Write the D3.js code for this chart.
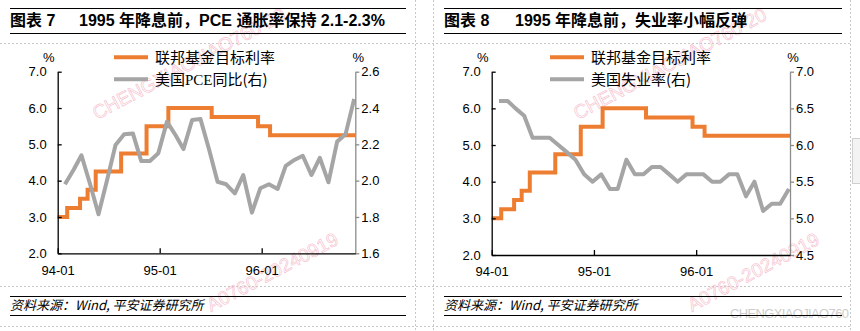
<!DOCTYPE html>
<html><head><meta charset="utf-8">
<script src="https://cdn.jsdelivr.net/npm/d3@7"></script>
<style>
html,body{margin:0;padding:0;background:#fff;}
svg{display:block;}
</style></head><body>
<svg id="c" width="860" height="331"></svg>
<script>
// ---------------- data ----------------
const months = ["1994-01","1994-02","1994-03","1994-04","1994-05","1994-06","1994-07","1994-08","1994-09","1994-10","1994-11","1994-12",
  "1995-01","1995-02","1995-03","1995-04","1995-05","1995-06","1995-07","1995-08","1995-09","1995-10","1995-11","1995-12",
  "1996-01","1996-02","1996-03","1996-04","1996-05","1996-06","1996-07","1996-08","1996-09","1996-10","1996-11"];
const pceYoY = [1.98,2.06,2.14,1.98,1.815,2.005,2.196,2.255,2.26,2.108,2.108,2.151,
  2.325,2.25,2.174,2.334,2.339,2.17,1.994,1.98,1.93,2.031,1.824,1.958,
  1.98,1.954,2.081,2.114,2.137,2.031,2.126,1.991,2.215,2.255,2.45];
const unemployment = [6.6,6.6,6.5,6.4,6.1,6.1,6.1,6.0,5.9,5.8,5.6,5.5,
  5.6,5.4,5.4,5.8,5.6,5.6,5.7,5.7,5.6,5.5,5.6,5.6,
  5.6,5.5,5.5,5.6,5.6,5.3,5.5,5.1,5.2,5.2,5.4];
const fedDates = ["1994-01-01","1994-02-04","1994-03-22","1994-04-18","1994-05-17","1994-08-16","1994-11-15",
  "1995-02-01","1995-07-06","1995-12-19","1996-01-31","1996-12-01"];
const fedTarget = [3.00,3.25,3.50,3.75,4.25,4.75,5.50,6.00,5.75,5.50,5.25,5.25];
const xTickDates = ["1994-01-01","1995-01-01","1996-01-01"];
const xTickLabels = ["94-01","95-01","96-01"];
const leftTicks = [2,3,4,5,6,7];
const pceTicks = [1.6,1.8,2.0,2.2,2.4,2.6];
const unempTicks = [4.5,5.0,5.5,6.0,6.5,7.0];
const obsDay = 27; // monthly observation placed late in month

const ORANGE = "#ED7D31", GRAY = "#A5A5A5";
const FONT = "'Liberation Sans','Noto Sans CJK SC',sans-serif";
const CJK = "'Noto Sans CJK SC','Liberation Sans',sans-serif";

const svg = d3.select("#c");
const parseDay = d3.timeParse("%Y-%m-%d");
const parseMonth = d3.timeParse("%Y-%m");

// page frame (dashed cell borders)
const dash = svg.append("g").attr("stroke","#c8c8c8").attr("stroke-dasharray","2,2").attr("stroke-width",1);
[43.5,286.5,326.5].forEach(y=>dash.append("line").attr("x1",0).attr("x2",851).attr("y1",y).attr("y2",y));
[415.5,433.5,850.5].forEach(x=>dash.append("line").attr("x1",x).attr("x2",x).attr("y1",0).attr("y2",331));
svg.append("rect").attr("x",852.5).attr("y",138.5).attr("width",9).attr("height",45).attr("fill","#f3f3f3").attr("stroke","#cfcfcf");

// watermarks (only the parts visible inside the page)
function wm(x,y,txt){
  svg.append("text").attr("transform",`translate(${x},${y}) rotate(-28)`)
    .attr("font-family","'Liberation Sans',sans-serif").attr("font-size",19)
    .attr("fill","none").attr("stroke","#f5bccb").attr("stroke-width",0.6)
    .text(txt);
}
wm(97,120,"CHENGXIAOJIAO760-20"); wm(211,312,"A0760-20240919");
wm(578,120,"CHENGXIAOJIAO760-20"); wm(692,312,"A0760-20240919");
svg.append("text").attr("x",730).attr("y",318).attr("font-family","'Liberation Sans',sans-serif")
  .attr("font-size",13).attr("fill","#cdcdcd").attr("textLength",119).text("CHENGXIAOJIAO760");

function panel(cfg){
  const g = svg.append("g");
  // header
  g.append("line").attr("x1",cfg.fx0).attr("x2",cfg.fx1).attr("y1",8.5).attr("y2",8.5).attr("stroke","#000");
  g.append("line").attr("x1",cfg.fx0).attr("x2",cfg.fx1).attr("y1",33.5).attr("y2",33.5).attr("stroke","#000");
  g.append("text").attr("x",cfg.fx0).attr("y",26).attr("font-family",FONT).attr("font-weight","bold")
    .attr("font-size",16).text(cfg.figNo);
  g.append("text").attr("x",cfg.titleX).attr("y",26).attr("font-family",FONT).attr("font-weight","bold")
    .attr("font-size",16).text(cfg.title);
  // footer
  g.append("line").attr("x1",cfg.fx0).attr("x2",cfg.fx1).attr("y1",296.5).attr("y2",296.5).attr("stroke","#000");
  g.append("line").attr("x1",cfg.fx0).attr("x2",cfg.fx1).attr("y1",315.5).attr("y2",315.5).attr("stroke","#000");
  g.append("text").attr("x",cfg.fx0).attr("y",310).attr("font-family",CJK).attr("font-style","italic")
    .attr("font-size",13).text("资料来源：Wind, 平安证券研究所");

  const {l,r,t,b} = cfg;
  const x = d3.scaleTime().domain([parseDay("1994-01-01"), parseDay("1996-12-01")]).range([l,r]);
  const yL = d3.scaleLinear().domain([2,7]).range([b,t]);
  const yR = d3.scaleLinear().domain(cfg.rDomain).range([b,t]);

  // series
  const fed = fedDates.map((d,i)=>({d:parseDay(d), v:fedTarget[i]}));
  g.append("path").datum(fed).attr("fill","none").attr("stroke",ORANGE).attr("stroke-width",4)
    .attr("d", d3.line().curve(d3.curveStepAfter).x(p=>x(p.d)).y(p=>yL(p.v)));
  const ser = months.map((m,i)=>({d:d3.timeDay.offset(parseMonth(m), obsDay-1), v:cfg.values[i]}));
  g.append("path").datum(ser).attr("fill","none").attr("stroke",GRAY).attr("stroke-width",4)
    .attr("stroke-linejoin","round")
    .attr("d", d3.line().x(p=>x(p.d)).y(p=>yR(p.v)));

  // axes
  const ax = g.append("g").attr("transform",`translate(${l},0)`)
    .call(d3.axisLeft(yL).tickValues(leftTicks).tickFormat(d3.format(".1f")).tickSizeInner(-4).tickSizeOuter(0).tickPadding(11));
  const axR = g.append("g").attr("transform",`translate(${r},0)`)
    .call(d3.axisRight(yR).tickValues(cfg.rTicks).tickFormat(d3.format(".1f")).tickSizeInner(4).tickSizeOuter(0).tickPadding(2));
  axR.selectAll("path,line").attr("stroke","#8c8c8c").attr("stroke-width",1.3);
  const axB = g.append("g").attr("transform",`translate(0,${b})`)
    .call(d3.axisBottom(x).tickValues(xTickDates.map(parseDay)).tickFormat((d,i)=>xTickLabels[i]).tickSizeInner(-5).tickSizeOuter(0).tickPadding(12));
  [ax,axB].forEach(a=>a.selectAll("path,line").attr("stroke","#000").attr("stroke-width",1.3));
  [ax,axR,axB].forEach(a=>a.attr("font-family",FONT).attr("font-size",13).selectAll("text").attr("fill","#000"));

  // unit labels
  g.append("text").attr("x",l-9).attr("y",62).attr("text-anchor","middle").attr("font-family",FONT).attr("font-size",13).text("%");
  g.append("text").attr("x",r+3).attr("y",62).attr("text-anchor","middle").attr("font-family",FONT).attr("font-size",13).text("%");

  // legend
  const leg = [{c:ORANGE, parts:[["联邦基金目标利率",CJK]], y:57.3},{c:GRAY, parts:cfg.leg2, y:79.3}];
  leg.forEach(e=>{
    g.append("line").attr("x1",cfg.legX).attr("x2",cfg.legX+34).attr("y1",e.y).attr("y2",e.y)
      .attr("stroke",e.c).attr("stroke-width",4);
    const tx = g.append("text").attr("x",cfg.legX+41).attr("y",e.y+5.5).attr("font-size",15).attr("fill","#000");
    e.parts.forEach(p=>tx.append("tspan").attr("font-family",p[1]).text(p[0]));
  });
}

panel({fx0:10, fx1:406, figNo:"图表 7", titleX:79, title:"1995 年降息前，PCE 通胀率保持 2.1-2.3%",
  l:57.7, r:355.3, t:71.7, b:253.3, rDomain:[1.6,2.6], rTicks:pceTicks, values:pceYoY, legX:114,
  leg2:[["美国",CJK],["PCE","'Liberation Serif',serif"],["同比(右)",CJK]]});
panel({fx0:444, fx1:842, figNo:"图表 8", titleX:515, title:"1995 年降息前，失业率小幅反弹",
  l:491.7, r:790, t:71.7, b:255, rDomain:[4.5,7.0], rTicks:unempTicks, values:unemployment, legX:550,
  leg2:[["美国失业率(右)",CJK]]});
</script>
</body></html>
